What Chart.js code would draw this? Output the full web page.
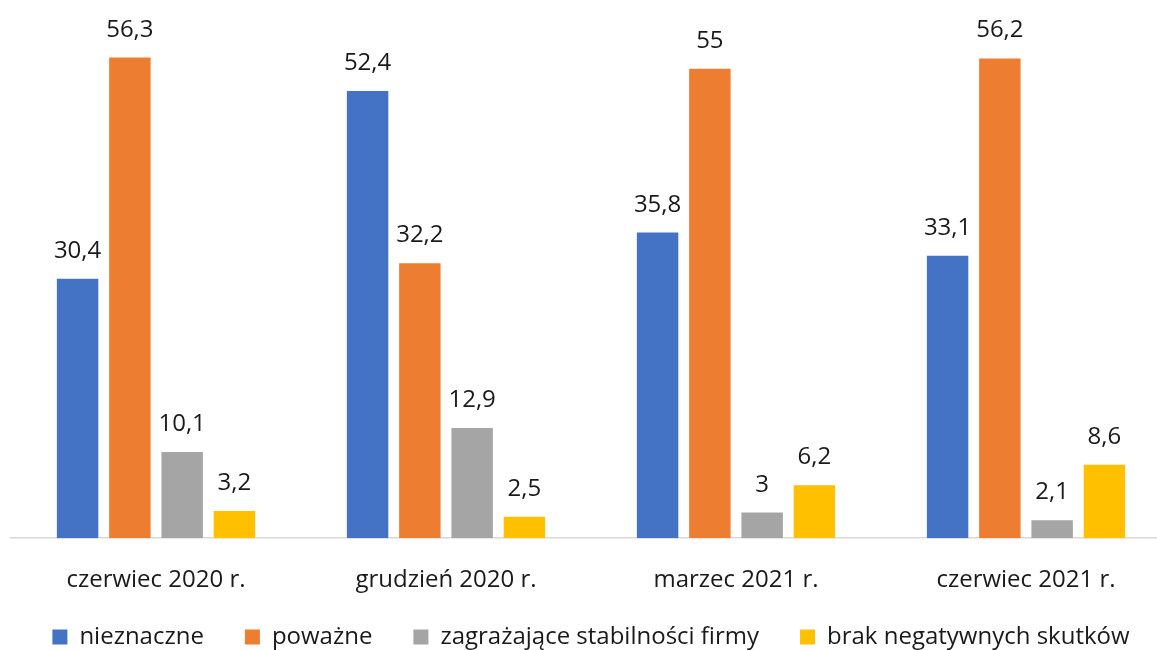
<!DOCTYPE html>
<html>
<head>
<meta charset="utf-8">
<script src="https://cdn.jsdelivr.net/npm/chart.js@4"></script>
<style>
  html, body { margin: 0; padding: 0; background: #fff; overflow: hidden; }
  #wrap { position: relative; width: 1180px; height: 650px; }
</style>
</head>
<body>
<div id="wrap"><canvas id="c" width="1180" height="650"></canvas></div>
<script>
const categories = ["czerwiec 2020 r.", "grudzień 2020 r.", "marzec 2021 r.", "czerwiec 2021 r."];
const seriesNames = ["nieznaczne", "poważne", "zagrażające stabilności firmy", "brak negatywnych skutków"];
const nieznaczne = [30.4, 52.4, 35.8, 33.1];
const powazne = [56.3, 32.2, 55, 56.2];
const zagrazajace = [10.1, 12.9, 3, 2.1];
const brak = [3.2, 2.5, 6.2, 8.6];
const colors = ["#4472C4", "#ED7D31", "#A5A5A5", "#FFC000"];

const FONT = "'Open Sans', 'Noto Sans', sans-serif";
const FS = 24;
const TEXT = "#1a1a1a";

const labelPlugin = {
  id: 'barLabels',
  afterDatasetsDraw(chart) {
    const ctx = chart.ctx;
    ctx.save();
    ctx.font = FS + "px " + FONT;
    ctx.fillStyle = TEXT;
    ctx.textAlign = "center";
    ctx.textBaseline = "alphabetic";
    chart.data.datasets.forEach((ds, i) => {
      const meta = chart.getDatasetMeta(i);
      meta.data.forEach((bar, j) => {
        const txt = String(ds.data[j]).replace('.', ',');
        ctx.fillText(txt, bar.x, bar.y - 21);
      });
    });
    ctx.restore();
  }
};

const legendShiftPlugin = {
  id: 'legendShift',
  afterLayout(chart) {
    const lg = chart.legend;
    if (!lg) return;
    const dy = -39;
    lg.top += dy;
    lg.bottom += dy;
  }
};

const allSeries = [nieznaczne, powazne, zagrazajace, brak];
new Chart(document.getElementById('c'), {
  type: 'bar',
  data: {
    labels: categories,
    datasets: allSeries.map((d, i) => ({
      label: seriesNames[i],
      data: d,
      backgroundColor: colors[i],
      borderWidth: 0,
      categoryPercentage: 0.721,
      barPercentage: 0.793
    }))
  },
  options: {
    responsive: false,
    animation: false,
    layout: { padding: { left: 11, right: 9, top: 26, bottom: -48 } },
    plugins: {
      legend: {
        position: 'bottom',
        labels: {
          font: { family: FONT, size: FS },
          color: TEXT,
          boxWidth: 15,
          boxHeight: 15,
          padding: 41
        }
      },
      tooltip: { enabled: false }
    },
    scales: {
      x: {
        grid: { display: false, drawTicks: false },
        border: { display: true, color: '#d9d9d9', width: 1.5 },
        ticks: {
          font: { family: FONT, size: FS },
          color: TEXT,
          padding: 28,
          maxRotation: 0
        }
      },
      y: {
        display: false,
        min: 0,
        max: 60
      }
    }
  },
  plugins: [labelPlugin, legendShiftPlugin]
});
</script>
</body>
</html>
